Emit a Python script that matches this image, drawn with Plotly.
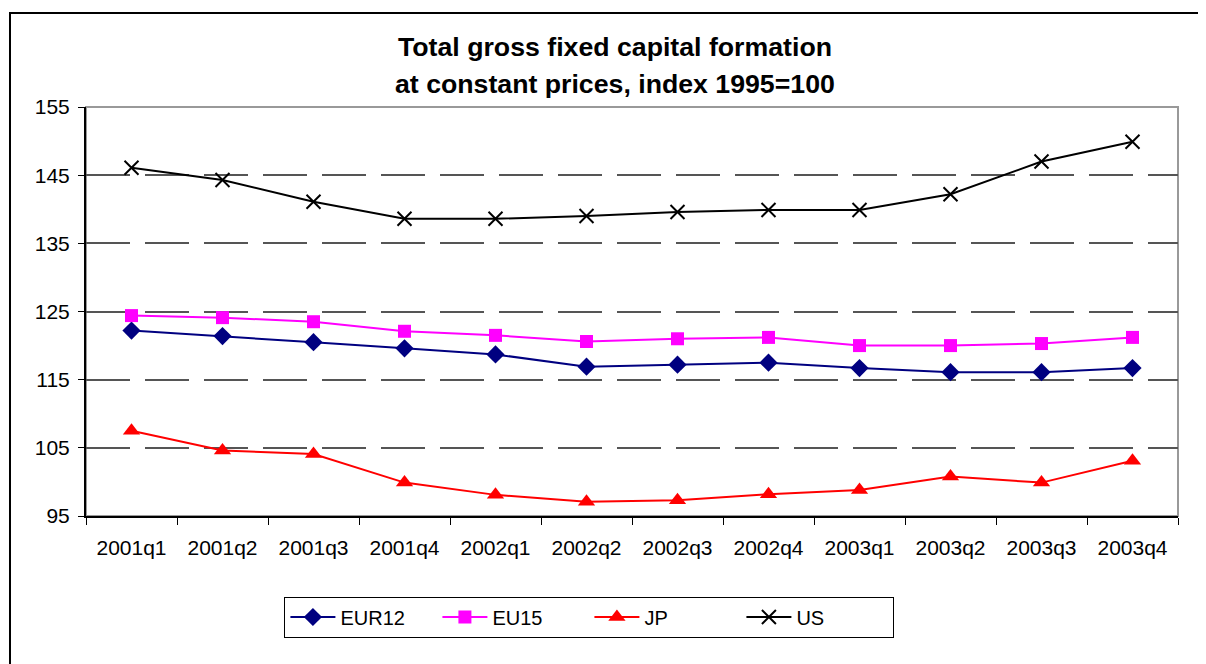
import plotly.graph_objects as go

quarters = ["2001q1", "2001q2", "2001q3", "2001q4", "2002q1", "2002q2",
            "2002q3", "2002q4", "2003q1", "2003q2", "2003q3", "2003q4"]
eur12 = [122.2, 121.4, 120.5, 119.6, 118.7, 116.9, 117.2, 117.5, 116.7, 116.1, 116.1, 116.7]
eu15 = [124.4, 124.1, 123.5, 122.1, 121.5, 120.6, 121.0, 121.2, 120.0, 120.0, 120.3, 121.2]
jp = [107.5, 104.6, 104.1, 99.9, 98.1, 97.1, 97.3, 98.2, 98.8, 100.8, 99.9, 103.1]
us = [146.1, 144.3, 141.1, 138.6, 138.6, 139.0, 139.6, 139.9, 139.9, 142.2, 147.0, 149.9]
y_ticks = [95, 105, 115, 125, 135, 145, 155]
title_lines = ["Total gross fixed capital formation", "at constant prices, index 1995=100"]

FONT = "Liberation Sans, Arial, sans-serif"

fig = go.Figure()
series = [
    ("EUR12", eur12, "#000080", dict(symbol="diamond", size=14, color="#000080")),
    ("EU15", eu15, "#FF00FF", dict(symbol="square", size=13, color="#FF00FF")),
    ("JP", jp, "#FF0000", dict(symbol="triangle-up", size=15, color="#FF0000")),
    ("US", us, "#000000", dict(symbol="x-thin", size=14, color="#000000",
                               line=dict(color="#000000", width=2))),
]
for name, vals, col, mk in series:
    fig.add_trace(go.Scatter(x=quarters, y=vals, name=name, mode="lines+markers",
                             line=dict(color=col, width=2), marker=mk))

# plot-area border (gray) and outer chart frame
fig.add_shape(type="rect", xref="x domain", yref="y domain", x0=0, x1=1, y0=0, y1=1,
              line=dict(color="#999999", width=2), layer="below")
fig.add_shape(type="rect", xref="paper", yref="paper",
              x0=-0.0696, x1=1.04, y0=-0.40, y1=1.2298,
              line=dict(color="#000000", width=2), layer="below")

# two-line bold title
for txt, yp in zip(title_lines, [1.1467, 1.0562]):
    fig.add_annotation(text="<b>" + txt + "</b>", xref="paper", yref="paper",
                       x=0.4844, y=yp, xanchor="center", yanchor="middle",
                       showarrow=False, font=dict(family=FONT, size=26.7, color="black"))

fig.update_layout(
    width=1206, height=664,
    margin=dict(l=78, r=36, t=99, b=156),
    paper_bgcolor="white", plot_bgcolor="white",
    font=dict(family=FONT, size=21, color="black"),
    showlegend=True,
    legend=dict(orientation="h", x=0.461, xanchor="center", y=-0.247, yanchor="middle",
                bordercolor="black", borderwidth=1, bgcolor="white",
                itemwidth=45, entrywidth=92, entrywidthmode="pixels",
                font=dict(family=FONT, size=20),
                traceorder="normal"),
)
fig.update_xaxes(type="category", range=[-0.5, 11.5], showgrid=False,
                 showline=True, linecolor="black", linewidth=2,
                 ticks="outside", ticklen=7, tickcolor="black", tickwidth=1,
                 tickson="boundaries", ticklabelstandoff=12, zeroline=False)
fig.update_yaxes(range=[95, 155], tickvals=y_ticks, showgrid=True,
                 gridcolor="#555555", gridwidth=1.5, griddash="44px,15px",
                 showline=True, linecolor="black", linewidth=2,
                 ticks="outside", ticklen=6, tickcolor="black", tickwidth=1,
                 ticklabelstandoff=4, zeroline=False)

fig.write_html("out.html")
